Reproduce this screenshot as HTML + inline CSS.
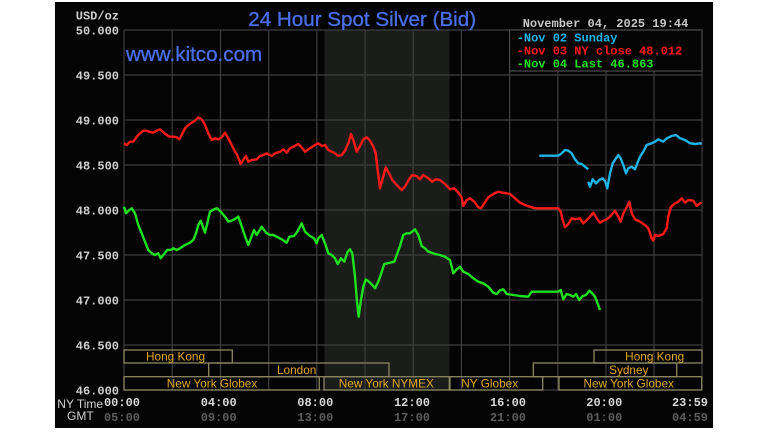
<!DOCTYPE html>
<html><head><meta charset="utf-8"><style>
html,body{margin:0;padding:0;background:#fff;}
svg{display:block;}
.m{font-family:"Liberation Mono",monospace;font-weight:bold;font-size:12px;}
.s{font-family:"Liberation Sans",sans-serif;}
</style></head><body>
<svg width="770" height="433" viewBox="0 0 770 433" xmlns="http://www.w3.org/2000/svg">
<rect x="55" y="2" width="658" height="426" fill="#040404"/>
<!-- NYMEX shading -->
<rect x="324.5" y="30" width="125" height="360" fill="#1b1d1b"/>
<!-- grid -->
<g stroke="#3e3e3e" stroke-width="1.2">
<line x1="124" y1="30" x2="702" y2="30"/><line x1="124" y1="75" x2="702" y2="75"/><line x1="124" y1="120" x2="702" y2="120"/><line x1="124" y1="165" x2="702" y2="165"/><line x1="124" y1="210" x2="702" y2="210"/><line x1="124" y1="255" x2="702" y2="255"/><line x1="124" y1="300" x2="702" y2="300"/><line x1="124" y1="345" x2="702" y2="345"/><line x1="124" y1="390" x2="702" y2="390"/>
<line x1="124" y1="30" x2="124" y2="390"/><line x1="172.2" y1="30" x2="172.2" y2="390"/><line x1="220.5" y1="30" x2="220.5" y2="390"/><line x1="268.7" y1="30" x2="268.7" y2="390"/><line x1="316.8" y1="30" x2="316.8" y2="390"/><line x1="365" y1="30" x2="365" y2="390"/><line x1="413.2" y1="30" x2="413.2" y2="390"/><line x1="461.4" y1="30" x2="461.4" y2="390"/><line x1="509.6" y1="30" x2="509.6" y2="390"/><line x1="557.8" y1="30" x2="557.8" y2="390"/><line x1="606" y1="30" x2="606" y2="390"/><line x1="654" y1="30" x2="654" y2="390"/><line x1="702" y1="30" x2="702" y2="390"/>
</g>
<!-- legend box -->
<rect x="509.6" y="30" width="192.4" height="41" fill="#040404" stroke="#4a4a4a" stroke-width="1.2"/>
<!-- session boxes -->
<g fill="none" stroke="#8a8660" stroke-width="1.3">
<rect x="124" y="350" width="108.3" height="13"/>
<rect x="208.7" y="363" width="180.3" height="13.7"/>
<rect x="124" y="376.7" width="195.3" height="13.3"/>
<rect x="324" y="376.7" width="125.3" height="13.3"/>
<rect x="450" y="376.7" width="92.7" height="13.3"/>
<rect x="559" y="376.7" width="142.7" height="13.3"/>
<rect x="533.3" y="363" width="143.4" height="13.7"/>
<rect x="594" y="350" width="108" height="13"/>
</g>
<g class="s" fill="#e0a820" font-size="11.8" text-anchor="middle">
<text x="175.5" y="360.5">Hong Kong</text>
<text x="296.7" y="374">London</text>
<text x="212" y="387.5">New York Globex</text>
<text x="386.3" y="387.5">New York NYMEX</text>
<text x="489.7" y="387.5">NY Globex</text>
<text x="628.7" y="387.5">New York Globex</text>
<text x="628.8" y="374">Sydney</text>
<text x="654.7" y="360.5">Hong Kong</text>
</g>
<!-- series -->
<g fill="none" stroke-width="2.4" stroke-linejoin="round">
<polyline stroke="#ff1a1a" points="124,143.3 126.7,145 130,141.7 133.3,141.7 136.7,136.7 140,133.3 143.3,130.7 146.7,130.7 150,132 153.3,132.7 156.7,130.7 160,129.3 163.3,132.3 166.7,135 170,136.7 173.3,136.7 176.7,137.3 179.3,139.3 181.7,135 185,128.3 188.3,125 191.7,122.7 195,120.7 198.3,117.3 201.7,119.3 205,125 208.3,133.3 211.7,140 215,138.3 218.3,139.3 221.7,137.3 225,132.7 228.3,138.3 231.7,145 235,151.7 237.3,155 240.7,164 243.3,160 246,156 248.3,161.7 251.7,160 256.7,159.3 260,156 263.3,155 266.7,153.3 271.7,156 275,153.3 280,151.7 283.3,149.3 286.7,152.7 290,148.3 293.3,146.7 298.3,144 301.7,147.3 305,151.7 310,148.3 315,145 318.3,143.3 321.7,146 325,145 328.3,150 331.7,151.7 335,153.3 338.3,156 341.7,155 345,150.7 348.3,143.3 351,134 353.3,140 356.7,151.7 360,146 363.3,139.3 366.7,137.3 370,140.7 373.3,146.7 375.7,153.3 377.7,170 380,188.3 382.3,180 385.7,167.3 389,173.3 392.3,180 396.7,185 401.7,190 405,186.7 409,179.3 412.3,175 416.7,176 420,179.3 423.3,175 428.3,178.3 432.3,181.7 435.7,179.3 440,180 445,184 450,189.3 454.3,188.3 458.3,192.7 461.7,197.3 463.3,206 466.7,200 470,198.3 474.3,201.7 478.3,207.3 481,208.3 484.3,203.3 488.3,197.3 493.3,194 498.3,191.7 502.3,192.7 506.7,193.3 510,194 515,198.3 520,202.7 525,205 530,206.7 535,208.3 558.3,208.3 560.7,211.7 562.7,220 565,227.3 568.3,224 571.7,218.3 575,219.3 580,218.3 583.3,223.3 586.7,220 590,216.7 593.3,212.7 596.7,218.3 600,222.7 603.3,220.7 606.7,219.3 610,216.7 615,210.7 618.3,216.7 620.7,221.7 623.3,213.3 626.7,207.3 629.3,201.7 631.7,213.3 635,219.3 640,221.7 645,225 648.3,228.3 651.7,238.3 653.3,240.7 655,235 658.3,236 663.3,234 666.7,228.3 668.3,216.7 670.7,207.3 675,203.3 678.3,201.7 681.7,198.3 685,202.7 688.3,200 693.3,200.7 696.7,206 700,203.3 701.7,202.7"/>
<polyline stroke="#1ee01e" points="124,206.7 126,213.3 129.3,210 131.7,208.3 135,213.3 138.3,225 141.7,233.3 145,241.7 148.3,250 151.7,253.3 155,255 158.3,253.3 160.7,258.3 164,254 167.3,250 170.7,250 173.3,248.3 176.7,250 180,248.3 185,245 190,242.7 193.3,240 196,233.3 198.3,225 200.7,220.7 205,232.7 207.3,223.3 210,211.7 214,209.3 217.3,208.3 220.7,211.7 225,216.7 228.3,221.7 233.3,220 238.3,216.7 240.7,223.3 244,233.3 248.3,245 251.7,236 254,230 256.7,235 261.7,226.7 266,232.7 270,235 273.3,235 276.7,236.7 281.7,239.3 286.7,242.7 289.3,236.7 294,236 297.3,231.7 301.7,223.3 305,231.7 310,236 314,238.3 316.7,243.3 318.3,238.3 321.7,235 325,243.3 328.3,253.3 331.7,255 335,258.3 337.7,264 341,258.3 344.3,261.7 347.7,251.7 350,249.3 352.3,253.3 355,276.7 357,301.7 358.7,316.7 360.7,301.7 363.3,286.7 365.7,279.3 369,281.7 372.3,285 375,288.3 378.3,281.7 381,274 384.3,264 390,262.7 394.3,261.7 396.7,255 400,246 403.3,235 406.7,233.3 410,233.3 415,229.3 418.3,235 421.7,246 425,248.3 428.3,251.7 431.7,252.7 435,254 440,255 445,256.7 450,260 453.3,273.3 456.7,269.3 460,266.7 463.3,271.7 468.3,274 473.3,278.3 478.3,281.7 483.3,283.3 488.3,286.7 493.3,292.7 496.7,294 500,290.3 503.3,289.3 506.7,294 513.3,295 520,296 528.3,296.7 531.7,291.7 536.7,291.7 558.3,291.7 560.7,290 563.3,299.3 566.7,294 570,295 573.3,296.7 576,294 579.3,300 582.7,296 586,295 589.3,290.7 591.7,292.7 595,296.7 597.3,302.7 600,310"/>
<polyline stroke="#1eb4e6" points="539.3,155.7 558.3,155.7 561.7,153.3 565,150 568.3,150.7 571.7,153.3 575,159.3 578.3,163.3 581.7,164 585,166.7 588.3,169.3"/>
<polyline stroke="#1eb4e6" points="588.3,181.7 590,186.7 592.7,179.3 596,183.3 599.3,180 602.7,178.3 605.3,181.7 607.3,188.3 610,173.3 612.7,163.3 616,158.3 618.3,155 620.7,158.3 623.3,165 626,173.3 628.3,168.3 631.7,166.7 635,169.3 637.3,163.3 640,156.7 643.3,151.7 646.7,145 651.7,143.3 655,141.7 658.3,139.3 663.3,141.7 666.7,138.3 671.7,136 676,135 680,138.3 685,140 690,143.3 695,144 700,143.3 701.7,144"/>
</g>
<!-- texts -->
<text class="s" x="248.3" y="26" font-size="20.6" fill="#4a6ee8" stroke="#4a6ee8" stroke-width="0.35">24 Hour Spot Silver (Bid)</text>
<text class="s" x="126" y="61" font-size="20.6" fill="#4a6ee8" stroke="#4a6ee8" stroke-width="0.35">www.kitco.com</text>
<text class="m" x="522.7" y="27" fill="#c8c8c8">November 04, 2025 19:44</text>
<text class="m" x="516.7" y="41.5" fill="#1eb4e6">-Nov 02 Sunday</text>
<text class="m" x="516.7" y="54.5" fill="#ff1a1a">-Nov 03 NY close 48.012</text>
<text class="m" x="516.7" y="67.5" fill="#1ee01e">-Nov 04 Last 46.863</text>
<g class="m" fill="#d0d0d0" text-anchor="end">
<text x="119" y="19.5">USD/oz</text>
<text x="119" y="34.5">50.000</text>
<text x="119" y="79.5">49.500</text>
<text x="119" y="124.5">49.000</text>
<text x="119" y="169.5">48.500</text>
<text x="119" y="214.5">48.000</text>
<text x="119" y="259.5">47.500</text>
<text x="119" y="304.5">47.000</text>
<text x="119" y="349.5">46.500</text>
<text x="119" y="394.5">46.000</text>
</g>
<text class="s" x="57.3" y="408" font-size="12" fill="#d0d0d0">NY Time</text>
<text class="s" x="67" y="420" font-size="12" fill="#d0d0d0">GMT</text>
<g class="m" fill="#d8d8d8" text-anchor="middle">
<text x="122" y="406">00:00</text>
<text x="218.7" y="406">04:00</text>
<text x="315.3" y="406">08:00</text>
<text x="412" y="406">12:00</text>
<text x="508" y="406">16:00</text>
<text x="604.3" y="406">20:00</text>
<text x="690" y="406">23:59</text>
</g>
<g class="m" fill="#5e5e5e" text-anchor="middle">
<text x="122" y="421">05:00</text>
<text x="218.7" y="421">09:00</text>
<text x="315.3" y="421">13:00</text>
<text x="412" y="421">17:00</text>
<text x="508" y="421">21:00</text>
<text x="604.3" y="421">01:00</text>
<text x="690" y="421">04:59</text>
</g>
</svg>
</body></html>
